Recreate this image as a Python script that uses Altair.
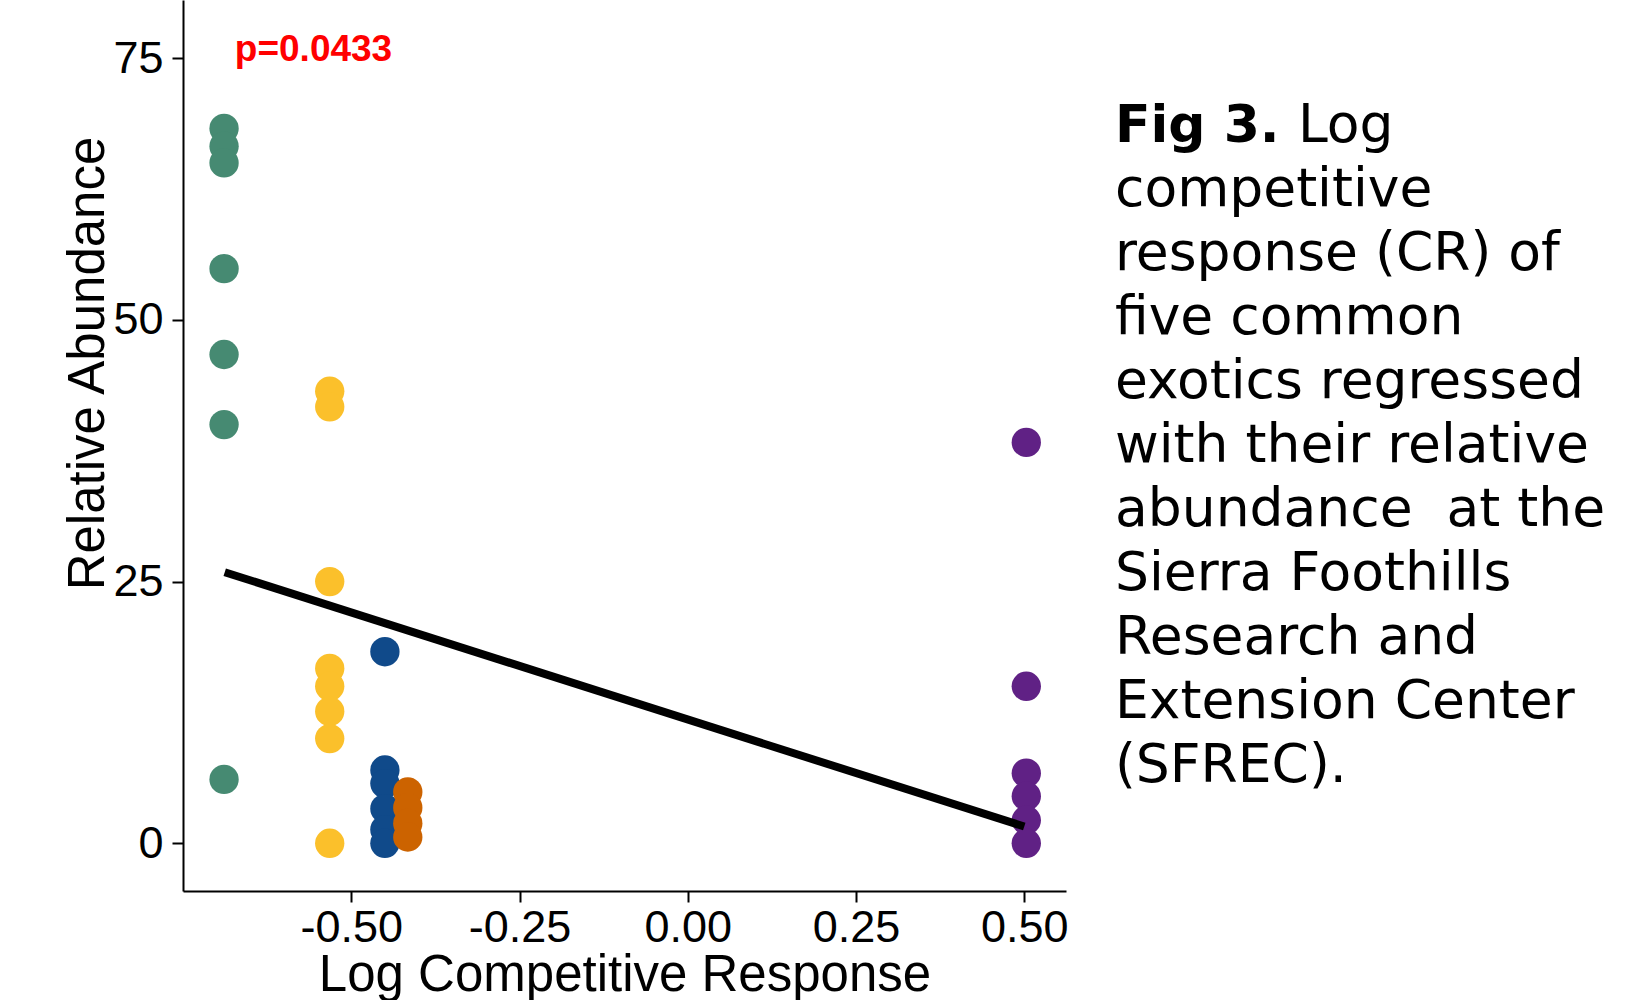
import altair as alt
import pandas as pd

# Log competitive response (CR) of each exotic species and its relative abundance per plot
species = ["Exotic 1", "Exotic 2", "Exotic 3", "Exotic 4", "Exotic 5"]
log_cr = [-0.689, -0.532, -0.450, -0.416, 0.503]
abundance = [
    [68.3, 66.6, 65.0, 54.9, 46.7, 40.0, 6.1],
    [43.2, 41.7, 25.0, 16.7, 15.0, 12.6, 10.0, 0.0],
    [18.3, 7.0, 5.7, 3.3, 1.3, 0.0],
    [4.9, 3.4, 1.9, 0.6],
    [38.3, 15.0, 6.7, 4.5, 2.2, 0.0],
]
colors = ["#468A72", "#FBC02B", "#104A8A", "#CC6300", "#602185"]

# Fitted regression line (end points)
fit_x = [-0.688, 0.500]
fit_y = [25.9, 1.6]

p_label = "p=0.0433"
p_x = -0.673
p_y = 74.7

x_ticks = [-0.5, -0.25, 0.0, 0.25, 0.5]
y_ticks = [0, 25, 50, 75]

caption_bold = "Fig 3."
caption_first = "Log"
caption_lines = [
    "competitive",
    "response (CR) of",
    "five common",
    "exotics regressed",
    "with their relative",
    "abundance \u00a0at the",
    "Sierra Foothills",
    "Research and",
    "Extension Center",
    "(SFREC).",
]

rows = []
for sp, x, vals in zip(species, log_cr, abundance):
    for v in vals:
        rows.append({"species": sp, "cr": x, "abund": v})
points_df = pd.DataFrame(rows)
fit_df = pd.DataFrame({"cr": fit_x, "abund": fit_y})
p_df = pd.DataFrame({"cr": [p_x], "abund": [p_y], "label": [p_label]})

FONT = "Liberation Sans"

x_scale = alt.Scale(domain=[-0.75, 0.562], nice=False, zero=False)
y_scale = alt.Scale(domain=[-4.56, 80.57], nice=False, zero=False)

x_axis = alt.Axis(
    values=x_ticks,
    labelExpr="replace(format(datum.value, '.2f'), '\u2212', '-')",
    title="Log Competitive Response",
    titleY=99,
    titleBaseline="alphabetic",
    labelPadding=3,
)
y_axis = alt.Axis(
    values=y_ticks,
    format="d",
    title="Relative Abundance",
    titleX=-80,
    titleY=363,
    titleAngle=270,
    titleAlign="center",
    titleBaseline="alphabetic",
    labelPadding=9,
)

pts = alt.Chart(points_df).mark_circle(size=860, opacity=1).encode(
    x=alt.X("cr:Q", scale=x_scale, axis=x_axis),
    y=alt.Y("abund:Q", scale=y_scale, axis=y_axis),
    color=alt.Color(
        "species:N",
        scale=alt.Scale(domain=species, range=colors),
        legend=None,
    ),
)

fit = alt.Chart(fit_df).mark_line(color="black", strokeWidth=8, strokeCap="butt").encode(
    x=alt.X("cr:Q", scale=x_scale),
    y=alt.Y("abund:Q", scale=y_scale),
)

ptext = alt.Chart(p_df).mark_text(
    font=FONT, fontSize=37, fontWeight="bold", color="#FF0000",
    align="left", baseline="alphabetic",
).encode(
    x=alt.X("cr:Q", scale=x_scale),
    y=alt.Y("abund:Q", scale=y_scale),
    text="label:N",
)

cap_df = pd.DataFrame({"bold": [caption_bold], "first": [caption_first],
                       "rest": ["\n".join(caption_lines)]})

cap_bold = alt.Chart(cap_df).mark_text(
    font="DejaVu Sans", fontSize=52, fontWeight="bold", color="black",
    align="left", baseline="alphabetic",
).encode(x=alt.value(932), y=alt.value(142), text="bold:N")

cap_first = alt.Chart(cap_df).mark_text(
    font="DejaVu Sans", fontSize=53.5, color="black",
    align="left", baseline="alphabetic",
).encode(x=alt.value(1115), y=alt.value(142), text="first:N")

cap_rest = alt.Chart(cap_df).mark_text(
    font="DejaVu Sans", fontSize=53.5, color="black",
    align="left", baseline="alphabetic", lineBreak="\n", lineHeight=64,
).encode(x=alt.value(932), y=alt.value(206), text="rest:N")

chart = alt.layer(pts, fit, ptext, cap_bold, cap_first, cap_rest).properties(
    width=883,
    height=891,
    autosize=alt.AutoSizeParams(type="none"),
    padding={"left": 183, "top": 0, "right": 586, "bottom": 109},
    background="white",
).configure_view(
    stroke=None
).configure_axis(
    grid=False,
    domainColor="black",
    domainWidth=2,
    tickColor="black",
    tickWidth=2,
    tickSize=11,
    labelFont=FONT,
    labelFontSize=45,
    labelColor="black",
    titleFont=FONT,
    titleFontSize=51,
    titleFontWeight="normal",
    titleColor="black",
)

chart.save("out.html", embed_options={"renderer": "svg", "actions": False})
